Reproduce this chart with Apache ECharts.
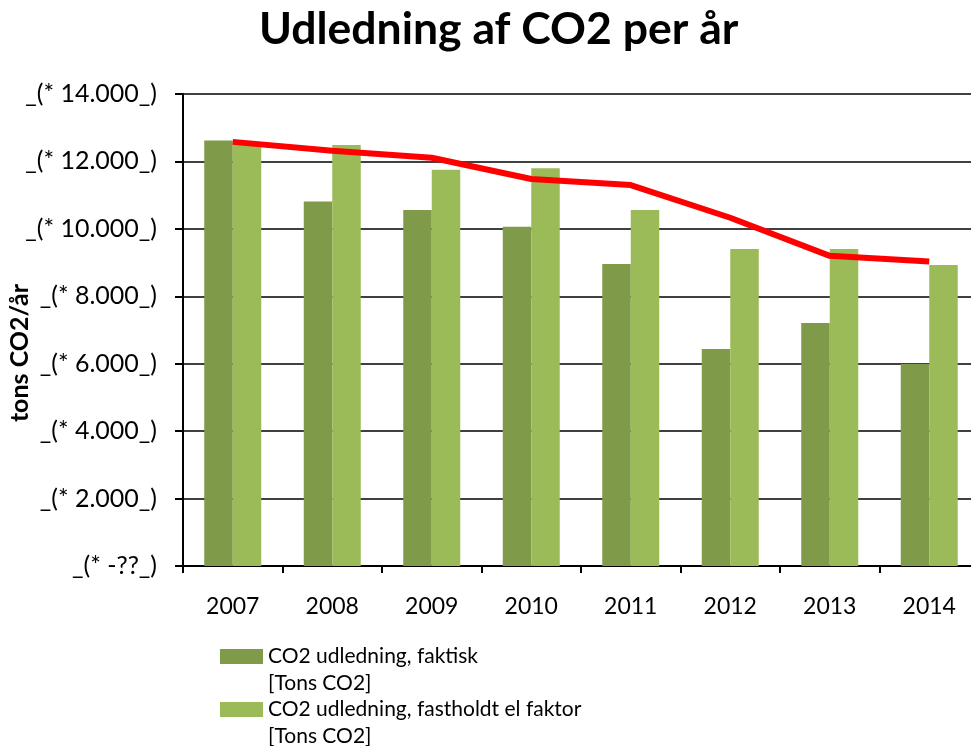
<!DOCTYPE html>
<html>
<head>
<meta charset="utf-8">
<script src="https://cdn.jsdelivr.net/npm/echarts@6/dist/echarts.min.js"></script>
<style>
  html, body { margin: 0; padding: 0; background: #fff; }
  #chart { width: 971px; height: 746px; }
</style>
</head>
<body>
<div id="chart"></div>
<script>
// data
var years = ['2007', '2008', '2009', '2010', '2011', '2012', '2013', '2014'];
var faktisk = [12620, 10810, 10560, 10060, 8960, 6440, 7210, 5990];
var fastholdt = [12500, 12490, 11750, 11800, 10560, 9400, 9400, 8930];
var linje = [12580, 12320, 12110, 11480, 11300, 10330, 9200, 9030];
var yTickLabels = ['_(* -??_)', '_(* 2.000_)', '_(* 4.000_)', '_(* 6.000_)',
  '_(* 8.000_)', '_(* 10.000_)', '_(* 12.000_)', '_(* 14.000_)'];

var FONT = 'Lato';
var chart = echarts.init(document.getElementById('chart'));

// legend entry: leading blank line so the icon sits beside the first text line
function legendBlock(name, top) {
  return {
    top: top,
    left: 220,
    padding: 0,
    orient: 'vertical',
    data: [name],
    icon: 'rect',
    itemWidth: 43,
    itemHeight: 15,
    itemGap: 0,
    selectedMode: false,
    formatter: function (n) { return ' \n' + n + '\n[Tons CO2]'; },
    textStyle: {
      fontFamily: FONT,
      fontSize: 21,
      color: '#000',
      lineHeight: 27
    }
  };
}

chart.setOption({
  animation: false,
  title: {
    text: 'Udledning af CO2 per år',
    left: 259,
    top: 7,
    padding: 0,
    textStyle: {
      fontFamily: FONT,
      fontWeight: 'bold',
      fontSize: 44.5,
      color: '#000'
    }
  },
  legend: [
    legendBlock('CO2 udledning, faktisk', 616),
    legendBlock('CO2 udledning, fastholdt el faktor', 669)
  ],
  grid: { left: 183, top: 94, width: 796, bottom: 180, outerBoundsMode: 'none' },
  xAxis: {
    type: 'category',
    data: years,
    axisLine: { lineStyle: { color: '#000', width: 2 } },
    axisTick: { show: true, length: 7, lineStyle: { color: '#000', width: 2 } },
    axisLabel: { fontFamily: FONT, fontSize: 23, color: '#000', margin: 29 }
  },
  yAxis: {
    type: 'value',
    min: 0,
    max: 14000,
    interval: 2000,
    name: 'tons CO2/år',
    nameLocation: 'middle',
    nameRotate: 90,
    nameGap: 151,
    nameMoveOverlap: false,
    nameTextStyle: {
      fontFamily: FONT, fontWeight: 'bold', fontSize: 25, color: '#000',
      padding: [0, 46, 0, 0]
    },
    axisLine: { show: true, lineStyle: { color: '#000', width: 2 } },
    axisTick: { show: true, length: 8, lineStyle: { color: '#000', width: 2 } },
    splitLine: { show: true, lineStyle: { color: '#000', width: 1.5 } },
    axisLabel: {
      fontFamily: FONT,
      fontSize: 25,
      color: '#000',
      margin: 26,
      formatter: function (v) { return yTickLabels[Math.round(v / 2000)]; }
    }
  },
  series: [
    {
      name: 'CO2 udledning, faktisk',
      type: 'bar',
      data: faktisk,
      barWidth: 28.5,
      barGap: '0%',
      itemStyle: { color: '#7f9a48' }
    },
    {
      name: 'CO2 udledning, fastholdt el faktor',
      type: 'bar',
      data: fastholdt,
      barWidth: 28.5,
      barGap: '0%',
      itemStyle: { color: '#9bbb59' }
    },
    {
      name: 'Linje',
      type: 'line',
      data: linje,
      symbol: 'none',
      z: 5,
      lineStyle: { color: '#ff0000', width: 6 }
    }
  ]
});
</script>
</body>
</html>
